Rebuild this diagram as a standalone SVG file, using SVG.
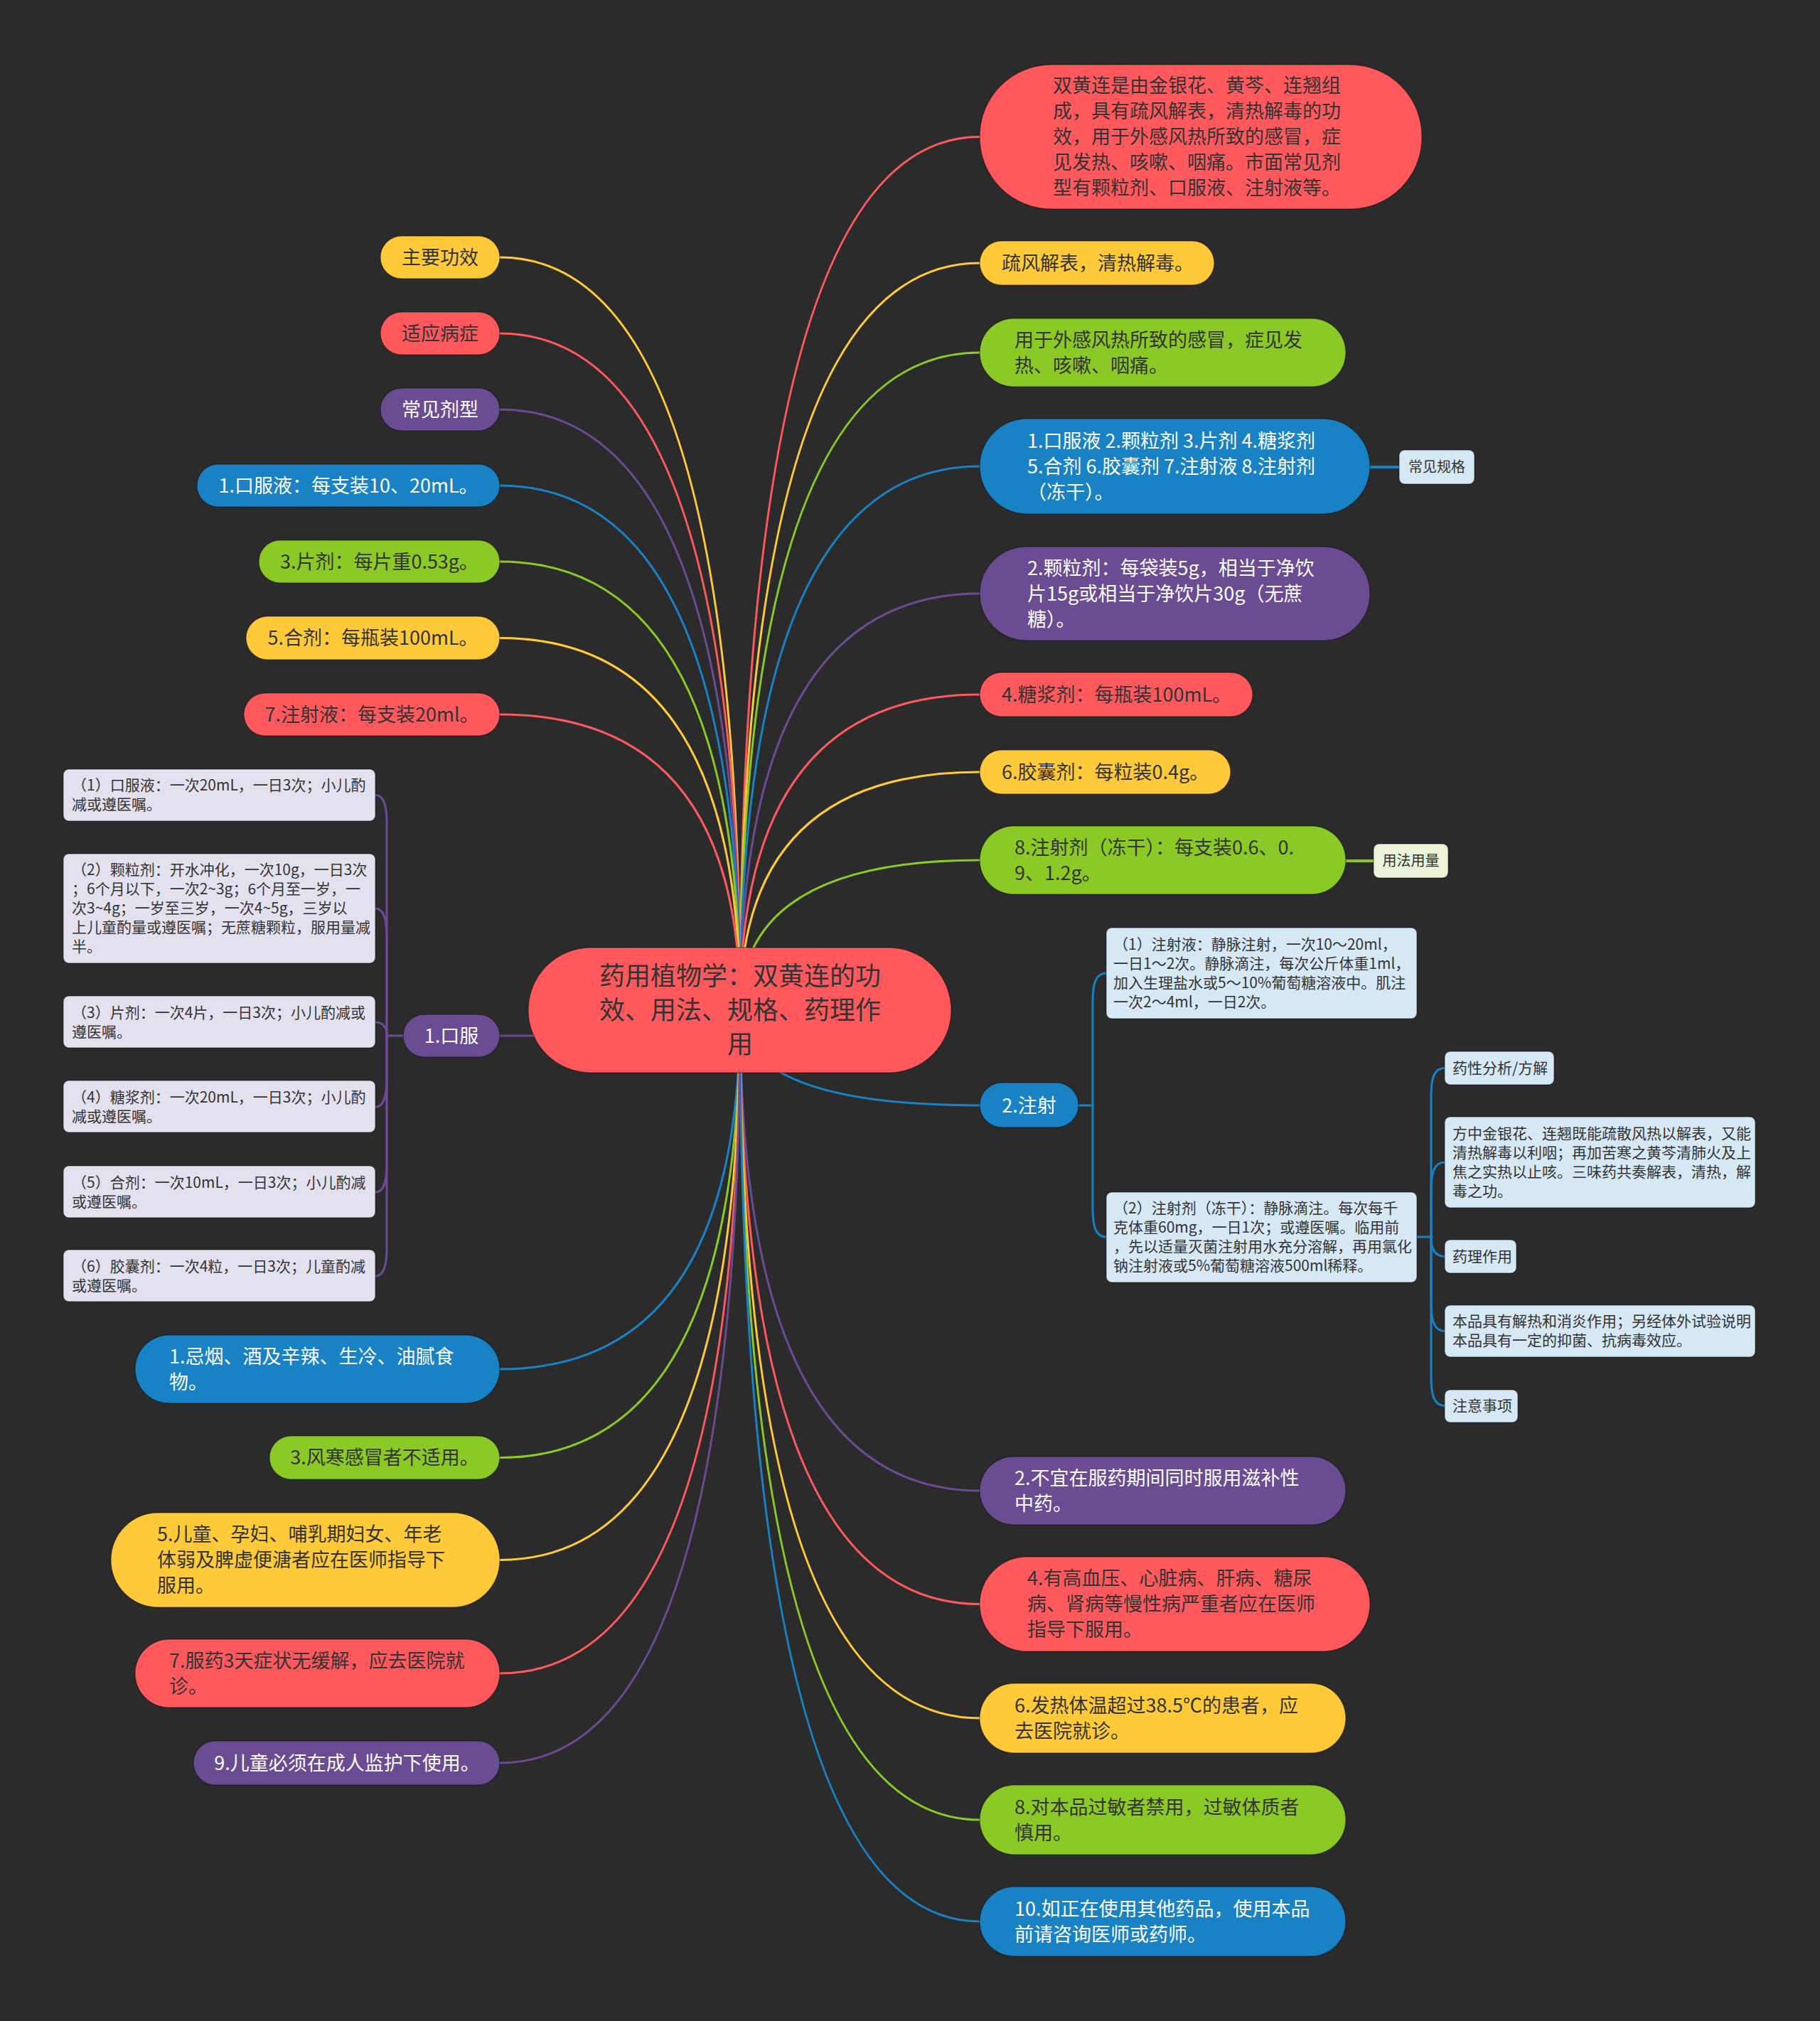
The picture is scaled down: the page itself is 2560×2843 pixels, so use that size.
<svg xmlns="http://www.w3.org/2000/svg" width="2560" height="2843" viewBox="0 0 2560 2843">
<style>
.n{stroke:rgba(0,0,0,0.35);stroke-width:1.5}
.red{fill:#ff595e}.yel{fill:#ffca3a}.grn{fill:#8ac926}.blu{fill:#1982c4}.pur{fill:#6a4c93}
.lav{fill:#e4e1ee}.lb{fill:#d6e8f4}.lg{fill:#e9f4d9}
text{font-family:"Noto Sans CJK SC","Noto Sans",sans-serif;fill:#333}
.w{fill:#ffffff}
.f36{font-size:36px}.f27{font-size:27px}.f21{font-size:21px}.f20{font-size:20px}
.c{text-anchor:middle}
.cn path{fill:none;stroke-width:3;stroke-linecap:round}
.sr{stroke:#ff595e}.sy{stroke:#ffca3a}.sg{stroke:#8ac926}.sb{stroke:#1982c4}.sp{stroke:#6a4c93}
</style>
<rect x="0" y="0" width="2560" height="2843" fill="#2b2b2b"/>
<g id="connectors" class="cn">
<path class="sr" d="M1041 1421 Q1041 192.5 1378 192.5"/>
<path class="sy" d="M1041 1421 Q1041 370 1378 370"/>
<path class="sg" d="M1041 1421 Q1041 496 1378 496"/>
<path class="sb" d="M1041 1421 Q1041 656 1378 656"/>
<path class="sp" d="M1041 1421 Q1041 835 1378 835"/>
<path class="sr" d="M1041 1421 Q1041 977 1378 977"/>
<path class="sy" d="M1041 1421 Q1041 1086 1378 1086"/>
<path class="sg" d="M1041 1421 Q1041 1210 1378 1210"/>
<path class="sb" d="M1041 1421 Q1041 1555 1378 1555"/>
<path class="sp" d="M1041 1421 Q1041 2097 1378 2097"/>
<path class="sr" d="M1041 1421 Q1041 2256.5 1378 2256.5"/>
<path class="sy" d="M1041 1421 Q1041 2417 1378 2417"/>
<path class="sg" d="M1041 1421 Q1041 2560 1378 2560"/>
<path class="sb" d="M1041 1421 Q1041 2703 1378 2703"/>
<path class="sy" d="M1041 1421 Q1041 362 703 362"/>
<path class="sr" d="M1041 1421 Q1041 469 703 469"/>
<path class="sp" d="M1041 1421 Q1041 576 703 576"/>
<path class="sb" d="M1041 1421 Q1041 683 703 683"/>
<path class="sg" d="M1041 1421 Q1041 790 703 790"/>
<path class="sy" d="M1041 1421 Q1041 897.5 703 897.5"/>
<path class="sr" d="M1041 1421 Q1041 1005 703 1005"/>
<path class="sp" d="M1041 1421 Q1041 1457 703 1457"/>
<path class="sb" d="M1041 1421 Q1041 1926 703 1926"/>
<path class="sg" d="M1041 1421 Q1041 2050.5 703 2050.5"/>
<path class="sy" d="M1041 1421 Q1041 2194.5 703 2194.5"/>
<path class="sr" d="M1041 1421 Q1041 2354 703 2354"/>
<path class="sp" d="M1041 1421 Q1041 2480 703 2480"/>
<path class="sb" style="stroke-width:4" d="M1927 657 H1968"/>
<path class="sg" style="stroke-width:4" d="M1893 1211 H1932"/>
<path class="sp" d="M567 1457 H544"/>
<path class="sp" d="M544 1457 V1158 C544 1133 540 1118.5 528 1118.5"/>
<path class="sp" d="M544 1457 V1318 C544 1293 540 1278 528 1278"/>
<path class="sp" d="M544 1457 C544 1447 540 1438 528 1438"/>
<path class="sp" d="M544 1457 V1517 C544 1542 540 1557 528 1557"/>
<path class="sp" d="M544 1457 V1637 C544 1662 540 1677 528 1677"/>
<path class="sp" d="M544 1457 V1755 C544 1780 540 1795 528 1795"/>
<path class="sb" d="M1517 1555 H1537"/>
<path class="sb" d="M1537 1555 V1409 C1537 1384 1541 1369 1556 1369"/>
<path class="sb" d="M1537 1555 V1700 C1537 1725 1541 1740 1556 1740"/>
<path class="sb" d="M1993 1740 H2013"/>
<path class="sb" d="M2013 1740 V1542 C2013 1517 2017 1502.5 2032 1502.5"/>
<path class="sb" d="M2013 1740 V1675 C2013 1650 2017 1635 2032 1635"/>
<path class="sb" d="M2013 1740 C2013 1755 2017 1767.5 2032 1767.5"/>
<path class="sb" d="M2013 1740 V1832 C2013 1857 2017 1872.5 2032 1872.5"/>
<path class="sb" d="M2013 1740 V1937 C2013 1962 2017 1977.5 2032 1977.5"/>
</g>
<g id="center">
<rect class="n red" x="743" y="1333" width="595" height="176" rx="88"/>
<text class="f36 c" x="1041"><tspan x="1041" y="1385.6">药用植物学：双黄连的功</tspan><tspan x="1041" y="1433.6">效、用法、规格、药理作</tspan><tspan x="1041" y="1481.6">用</tspan></text>
</g>
<g id="r1">
<rect class="n red" x="1378" y="91" width="622" height="203" rx="101"/>
<text class="f27"><tspan x="1481" y="130">双黄连是由金银花、黄芩、连翘组</tspan><tspan x="1481" y="166">成，具有疏风解表，清热解毒的功</tspan><tspan x="1481" y="202">效，用于外感风热所致的感冒，症</tspan><tspan x="1481" y="238">见发热、咳嗽、咽痛。市面常见剂</tspan><tspan x="1481" y="274">型有颗粒剂、口服液、注射液等。</tspan></text>
</g>
<g id="r2">
<rect class="n yel" x="1378" y="339" width="330" height="62" rx="31"/>
<text class="f27" x="1409" y="380">疏风解表，清热解毒。</text>
</g>
<g id="r3">
<rect class="n grn" x="1378" y="448" width="515" height="96" rx="48"/>
<text class="f27"><tspan x="1427" y="487.5">用于外感风热所致的感冒，症见发</tspan><tspan x="1427" y="523.5">热、咳嗽、咽痛。</tspan></text>
</g>
<g id="r4">
<rect class="n blu" x="1378" y="589" width="549" height="134" rx="67"/>
<text class="f27 w"><tspan x="1445" y="629.5">1.口服液 2.颗粒剂 3.片剂 4.糖浆剂</tspan><tspan x="1445" y="665.5">5.合剂 6.胶囊剂 7.注射液 8.注射剂</tspan><tspan x="1445" y="701.5">（冻干）。</tspan></text>
</g>
<g id="tag1">
<rect class="n lb" x="1968" y="633" width="106" height="48" rx="8"/>
<text class="f20 c" x="2021" y="664">常见规格</text>
</g>
<g id="r5">
<rect class="n pur" x="1378" y="769" width="549" height="132" rx="66"/>
<text class="f27 w"><tspan x="1445" y="808.5">2.颗粒剂：每袋装5g，相当于净饮</tspan><tspan x="1445" y="844.5">片15g或相当于净饮片30g（无蔗</tspan><tspan x="1445" y="880.5">糖）。</tspan></text>
</g>
<g id="r6">
<rect class="n red" x="1378" y="946" width="384" height="62" rx="31"/>
<text class="f27" x="1409" y="986.5">4.糖浆剂：每瓶装100mL。</text>
</g>
<g id="r7">
<rect class="n yel" x="1378" y="1055" width="353" height="62" rx="31"/>
<text class="f27" x="1409" y="1095.5">6.胶囊剂：每粒装0.4g。</text>
</g>
<g id="r8">
<rect class="n grn" x="1378" y="1162" width="515" height="96" rx="48"/>
<text class="f27"><tspan x="1427" y="1201.5">8.注射剂（冻干）：每支装0.6、0.</tspan><tspan x="1427" y="1237.5">9、1.2g。</tspan></text>
</g>
<g id="tag2">
<rect class="n lg" x="1932" y="1187" width="105" height="48" rx="8"/>
<text class="f20 c" x="1984.5" y="1218">用法用量</text>
</g>
<g id="r9">
<rect class="n blu" x="1378" y="1523" width="139" height="63" rx="31.5"/>
<text class="f27 w c" x="1447.5" y="1564.5">2.注射</text>
</g>
<g id="inj1">
<rect class="n lb" x="1556" y="1305" width="437" height="128" rx="8"/>
<text class="f21"><tspan x="1566" y="1335.9">（1）注射液：静脉注射，一次10～20ml，</tspan><tspan x="1566" y="1362.9">一日1～2次。静脉滴注，每次公斤体重1ml，</tspan><tspan x="1566" y="1389.9">加入生理盐水或5～10%葡萄糖溶液中。肌注</tspan><tspan x="1566" y="1416.9">一次2～4ml，一日2次。</tspan></text>
</g>
<g id="inj2">
<rect class="n lb" x="1556" y="1677" width="437" height="127" rx="8"/>
<text class="f21"><tspan x="1566" y="1706.9">（2）注射剂（冻干）：静脉滴注。每次每千</tspan><tspan x="1566" y="1733.9">克体重60mg，一日1次；或遵医嘱。临用前</tspan><tspan x="1566" y="1760.9">，先以适量灭菌注射用水充分溶解，再用氯化</tspan><tspan x="1566" y="1787.9">钠注射液或5%葡萄糖溶液500ml稀释。</tspan></text>
</g>
<g id="p1">
<rect class="n lb" x="2032" y="1479" width="154" height="47" rx="8"/>
<text class="f21" x="2043" y="1510">药性分析/方解</text>
</g>
<g id="p2">
<rect class="n lb" x="2032" y="1571" width="437" height="128" rx="8"/>
<text class="f21"><tspan x="2043" y="1601.9">方中金银花、连翘既能疏散风热以解表，又能</tspan><tspan x="2043" y="1628.9">清热解毒以利咽；再加苦寒之黄芩清肺火及上</tspan><tspan x="2043" y="1655.9">焦之实热以止咳。三味药共奏解表，清热，解</tspan><tspan x="2043" y="1682.9">毒之功。</tspan></text>
</g>
<g id="p3">
<rect class="n lb" x="2032" y="1744" width="101" height="47" rx="8"/>
<text class="f21" x="2043" y="1775">药理作用</text>
</g>
<g id="p4">
<rect class="n lb" x="2032" y="1836" width="437" height="73" rx="8"/>
<text class="f21"><tspan x="2043" y="1866.4">本品具有解热和消炎作用；另经体外试验说明</tspan><tspan x="2043" y="1893.4">本品具有一定的抑菌、抗病毒效应。</tspan></text>
</g>
<g id="p5">
<rect class="n lb" x="2032" y="1955" width="103" height="46" rx="8"/>
<text class="f21" x="2043" y="1985">注意事项</text>
</g>
<g id="r10">
<rect class="n pur" x="1378" y="2049" width="515" height="96" rx="48"/>
<text class="f27 w"><tspan x="1427" y="2088.5">2.不宜在服药期间同时服用滋补性</tspan><tspan x="1427" y="2124.5">中药。</tspan></text>
</g>
<g id="r11">
<rect class="n red" x="1378" y="2190" width="549" height="133" rx="66.5"/>
<text class="f27"><tspan x="1445" y="2230">4.有高血压、心脏病、肝病、糖尿</tspan><tspan x="1445" y="2266">病、肾病等慢性病严重者应在医师</tspan><tspan x="1445" y="2302">指导下服用。</tspan></text>
</g>
<g id="r12">
<rect class="n yel" x="1378" y="2368" width="515" height="98" rx="49"/>
<text class="f27"><tspan x="1427" y="2408.5">6.发热体温超过38.5℃的患者，应</tspan><tspan x="1427" y="2444.5">去医院就诊。</tspan></text>
</g>
<g id="r13">
<rect class="n grn" x="1378" y="2511" width="515" height="98" rx="49"/>
<text class="f27"><tspan x="1427" y="2551.5">8.对本品过敏者禁用，过敏体质者</tspan><tspan x="1427" y="2587.5">慎用。</tspan></text>
</g>
<g id="r14">
<rect class="n blu" x="1378" y="2654" width="515" height="98" rx="49"/>
<text class="f27 w"><tspan x="1427" y="2694.5">10.如正在使用其他药品，使用本品</tspan><tspan x="1427" y="2730.5">前请咨询医师或药师。</tspan></text>
</g>
<g id="l1">
<rect class="n yel" x="535" y="332" width="168" height="60" rx="30"/>
<text class="f27 c" x="619" y="371.5">主要功效</text>
</g>
<g id="l2">
<rect class="n red" x="535" y="439" width="168" height="60" rx="30"/>
<text class="f27 c" x="619" y="478.5">适应病症</text>
</g>
<g id="l3">
<rect class="n pur" x="535" y="546" width="168" height="60" rx="30"/>
<text class="f27 c w" x="619" y="585.5">常见剂型</text>
</g>
<g id="l4">
<rect class="n blu" x="277" y="653" width="426" height="60" rx="30"/>
<text class="f27 c w" x="490" y="692.5">1.口服液：每支装10、20mL。</text>
</g>
<g id="l5">
<rect class="n grn" x="364" y="760" width="339" height="60" rx="30"/>
<text class="f27 c" x="533.5" y="799.5">3.片剂：每片重0.53g。</text>
</g>
<g id="l6">
<rect class="n yel" x="346" y="867" width="357" height="61" rx="30.5"/>
<text class="f27 c" x="524.5" y="907">5.合剂：每瓶装100mL。</text>
</g>
<g id="l7">
<rect class="n red" x="343" y="975" width="360" height="60" rx="30"/>
<text class="f27 c" x="523" y="1014.5">7.注射液：每支装20ml。</text>
</g>
<g id="l8">
<rect class="n pur" x="567" y="1427" width="136" height="60" rx="30"/>
<text class="f27 c w" x="635" y="1466.5">1.口服</text>
</g>
<g id="o1">
<rect class="n lav" x="89" y="1082" width="439" height="73" rx="8"/>
<text class="f21"><tspan x="101" y="1112.4">（1）口服液：一次20mL，一日3次；小儿酌</tspan><tspan x="101" y="1139.4">减或遵医嘱。</tspan></text>
</g>
<g id="o2">
<rect class="n lav" x="89" y="1201" width="439" height="154" rx="8"/>
<text class="f21"><tspan x="101" y="1231.4">（2）颗粒剂：开水冲化，一次10g，一日3次</tspan><tspan x="101" y="1258.4">；6个月以下，一次2~3g；6个月至一岁，一</tspan><tspan x="101" y="1285.4">次3~4g；一岁至三岁，一次4~5g，三岁以</tspan><tspan x="101" y="1312.4">上儿童酌量或遵医嘱；无蔗糖颗粒，服用量减</tspan><tspan x="101" y="1339.4">半。</tspan></text>
</g>
<g id="o3">
<rect class="n lav" x="89" y="1401" width="439" height="73" rx="8"/>
<text class="f21"><tspan x="101" y="1431.9">（3）片剂：一次4片，一日3次；小儿酌减或</tspan><tspan x="101" y="1458.9">遵医嘱。</tspan></text>
</g>
<g id="o4">
<rect class="n lav" x="89" y="1520" width="439" height="73" rx="8"/>
<text class="f21"><tspan x="101" y="1550.9">（4）糖浆剂：一次20mL，一日3次；小儿酌</tspan><tspan x="101" y="1577.9">减或遵医嘱。</tspan></text>
</g>
<g id="o5">
<rect class="n lav" x="89" y="1640" width="439" height="73" rx="8"/>
<text class="f21"><tspan x="101" y="1670.9">（5）合剂：一次10mL，一日3次；小儿酌减</tspan><tspan x="101" y="1697.9">或遵医嘱。</tspan></text>
</g>
<g id="o6">
<rect class="n lav" x="89" y="1758" width="439" height="73" rx="8"/>
<text class="f21"><tspan x="101" y="1788.9">（6）胶囊剂：一次4粒，一日3次；儿童酌减</tspan><tspan x="101" y="1815.9">或遵医嘱。</tspan></text>
</g>
<g id="l9">
<rect class="n blu" x="190" y="1878" width="513" height="96" rx="48"/>
<text class="f27 w"><tspan x="238" y="1917.5">1.忌烟、酒及辛辣、生冷、油腻食</tspan><tspan x="238" y="1953.5">物。</tspan></text>
</g>
<g id="l10">
<rect class="n grn" x="379" y="2020" width="324" height="61" rx="30.5"/>
<text class="f27 c" x="541" y="2060">3.风寒感冒者不适用。</text>
</g>
<g id="l11">
<rect class="n yel" x="156" y="2128" width="547" height="133" rx="66.5"/>
<text class="f27"><tspan x="221" y="2168">5.儿童、孕妇、哺乳期妇女、年老</tspan><tspan x="221" y="2204">体弱及脾虚便溏者应在医师指导下</tspan><tspan x="221" y="2240">服用。</tspan></text>
</g>
<g id="l12">
<rect class="n red" x="190" y="2306" width="513" height="96" rx="48"/>
<text class="f27"><tspan x="238" y="2345.5">7.服药3天症状无缓解，应去医院就</tspan><tspan x="238" y="2381.5">诊。</tspan></text>
</g>
<g id="l13">
<rect class="n pur" x="272" y="2449" width="431" height="62" rx="31"/>
<text class="f27 c w" x="488" y="2489.5">9.儿童必须在成人监护下使用。</text>
</g>
</svg>
